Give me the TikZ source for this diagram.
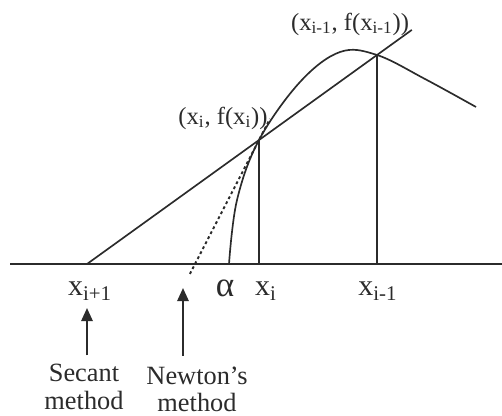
\documentclass[tikz,border=0pt]{standalone}
\usepackage{fontspec}
\setmainfont{Liberation Serif}
\usetikzlibrary{positioning,arrows.meta,calc}
\definecolor{ink}{HTML}{2B2B2B}
\tikzset{
  ln/.style={line width=0.95pt, color=ink},
  dotln/.style={line width=1.1pt, color=ink, dash pattern=on 1.6pt off 1.6pt},
  up/.style={-{Triangle[length=7.5pt,width=6.5pt]}, line width=1.2pt, color=ink},
  axlab/.style={font=\fontsize{17}{19}\selectfont, text=ink, inner sep=0pt},
  ptlab/.style={font=\fontsize{14}{16}\selectfont, text=ink, inner sep=0pt},
  mlab/.style={font=\fontsize{15}{15.5}\selectfont, text=ink, align=center, inner sep=0pt},
}
\begin{document}
\begin{tikzpicture}[x=0.02cm, y=-0.02cm]
  \useasboundingbox (0,0) rectangle (502,415);

  % points on the curve and on the axis
  \coordinate (left)  at (10,264);
  \coordinate (right) at (502,264);
  \coordinate (xi)    at (259,140);
  \coordinate (xim)   at (377,55);
  \coordinate (xip)   at (87,264);
  \coordinate (troot) at (195,264);
  \coordinate (xiB)   at (xi |- left);
  \coordinate (ximB)  at (xim |- left);

  % axis
  \draw[ln] (left) -- (right);

  % the function
  \draw[ln] plot[smooth, tension=0.6] coordinates
    {(229,264) (237,200) (259,140) (300,82) (340,52) (377,55) (425,79) (476,107)};

  % secant through both points, tangent at x_i
  \draw[ln] (xip) -- ($(xip)!1.12!(xim)$);
  \draw[dotln] ($(xi)!1.08!(troot)$) -- ($(troot)!1.17!(xi)$);

  % ordinates
  \draw[ln] (xi) -- (xiB);
  \draw[ln] (xim) -- (ximB);

  % labels
  \node[ptlab] (pim) at (350,24) {(x\textsubscript{i-1}, f(x\textsubscript{i-1}))};
  \node[ptlab] (pi)  at (223,118) {(x\textsubscript{i}, f(x\textsubscript{i}))};
  \node[axlab] (lxip) at (90,291) {x\textsubscript{i+1}};
  \node[axlab, font=\fontsize{20}{22}\selectfont] (lal) at (225,288) {α};
  \node[axlab] (lxi)  at (266,291) {x\textsubscript{i}};
  \node[axlab] (lxim) at (378,291) {x\textsubscript{i-1}};

  % which method gives which root
  \node[mlab] (sec) at (84,387) {Secant\\method};
  \node[mlab] (nwt) at (197,389) {Newton's\\method};
  \coordinate (secT) at (87,308);
  \coordinate (nwtT) at (183,288);
  \draw[up, shorten <=5pt] (sec.north -| secT) -- (secT);
  \draw[up, shorten <=6pt] (nwt.north -| nwtT) -- (nwtT);
\end{tikzpicture}
\end{document}
